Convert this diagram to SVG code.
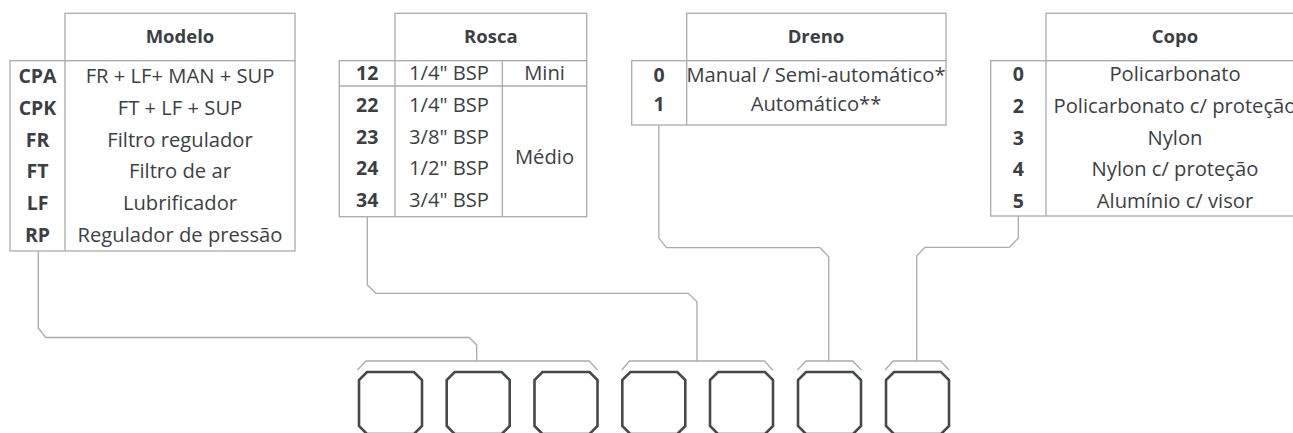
<svg xmlns="http://www.w3.org/2000/svg" width="1293" height="433" viewBox="0 0 1293 433">
<style>
.cell{fill:#fff;stroke:#ababab;stroke-width:1.3}
.ln{stroke:#ababab;stroke-width:1.3;fill:none}
.conn{stroke:#ababab;stroke-width:1.3;fill:none}
.box{fill:#fff;stroke:#45484c;stroke-width:2.6}
text{font-family:"Open Sans","Liberation Sans",sans-serif;fill:#3c3f44;text-anchor:middle}
.h{font-size:18.5px;font-weight:700}
.c{font-size:19.5px;font-weight:700}
.t{font-size:20.2px}
</style>
<rect width="1293" height="433" fill="#fff"/>
<g id="modelo">
<rect class="cell" x="65" y="13.3" width="230" height="47.4"/>
<rect class="cell" x="10" y="60.7" width="285" height="190.3"/>
<line class="ln" x1="65" y1="60.7" x2="65" y2="251"/>
<text class="h" x="180" y="43.3">Modelo</text>
<text class="c" x="37.5" y="83.3">CPA</text>
<text class="t" x="180" y="83.3">FR + LF+ MAN + SUP</text>
<text class="c" x="37.5" y="115">CPK</text>
<text class="t" x="180" y="115">FT + LF + SUP</text>
<text class="c" x="37.5" y="146.7">FR</text>
<text class="t" x="180" y="146.7">Filtro regulador</text>
<text class="c" x="37.5" y="178.4">FT</text>
<text class="t" x="180" y="178.4">Filtro de ar</text>
<text class="c" x="37.5" y="210.1">LF</text>
<text class="t" x="180" y="210.1">Lubrificador</text>
<text class="c" x="37.5" y="241.8">RP</text>
<text class="t" x="180" y="241.8">Regulador de pressão</text>
</g>
<g id="rosca">
<rect class="cell" x="395" y="13.3" width="191.7" height="47.4"/>
<rect class="cell" x="339.3" y="60.7" width="247.4" height="156"/>
<line class="ln" x1="395" y1="60.7" x2="395" y2="216.7"/>
<line class="ln" x1="502.3" y1="60.7" x2="502.3" y2="216.7"/>
<line class="ln" x1="339.3" y1="86" x2="586.7" y2="86"/>
<text class="h" x="490.8" y="43.3">Rosca</text>
<text class="c" x="367.2" y="80">12</text>
<text class="t" x="449" y="80">1/4"  BSP</text>
<text class="t" x="544.5" y="80">Mini</text>
<text class="c" x="367.2" y="111.7">22</text>
<text class="t" x="449" y="111.7">1/4"  BSP</text>
<text class="c" x="367.2" y="143.5">23</text>
<text class="t" x="449" y="143.5">3/8"  BSP</text>
<text class="c" x="367.2" y="175.3">24</text>
<text class="t" x="449" y="175.3">1/2"  BSP</text>
<text class="c" x="367.2" y="207.1">34</text>
<text class="t" x="449" y="207.1">3/4"  BSP</text>
<text class="t" x="544.5" y="164">Médio</text>
</g>
<g id="dreno">
<rect class="cell" x="686.7" y="13.3" width="259.3" height="47.4"/>
<rect class="cell" x="631.7" y="60.7" width="314.3" height="64.3"/>
<line class="ln" x1="686.7" y1="60.7" x2="686.7" y2="125"/>
<text class="h" x="816" y="43.3">Dreno</text>
<text class="c" x="659" y="82">0</text>
<text class="t" x="816" y="82">Manual / Semi-automático*</text>
<text class="c" x="659" y="110.5">1</text>
<text class="t" x="816" y="110.5">Automático**</text>
</g>
<g id="copo">
<rect class="cell" x="1046" y="13.3" width="270" height="47.4"/>
<rect class="cell" x="990.7" y="60.7" width="330" height="155.3"/>
<line class="ln" x1="1046" y1="60.7" x2="1046" y2="216"/>
<text class="h" x="1175" y="43.3">Copo</text>
<text class="c" x="1018.3" y="81">0</text>
<text class="t" x="1175" y="81">Policarbonato</text>
<text class="c" x="1018.3" y="112.8">2</text>
<text class="t" x="1175" y="112.8">Policarbonato c/ proteção</text>
<text class="c" x="1018.3" y="144.6">3</text>
<text class="t" x="1175" y="144.6">Nylon</text>
<text class="c" x="1018.3" y="176.4">4</text>
<text class="t" x="1175" y="176.4">Nylon c/ proteção</text>
<text class="c" x="1018.3" y="208.2">5</text>
<text class="t" x="1175" y="208.2">Alumínio c/ visor</text>
</g>
<g id="connectors">
<path class="conn" d="M38.3,251 V328 L45.7,337.5 H469.3 L476.7,345 V361"/>
<path class="conn" d="M367.3,216.7 V285 L376,293.3 H688.3 L697,301.7 V361"/>
<path class="conn" d="M658.8,125 V238 L666.5,247.7 H820 L828.7,256.7 V361"/>
<path class="conn" d="M1018.3,216 V238.3 L1009.3,247.3 H925 L916.7,256 V361"/>
<path class="conn" d="M357.3,370 L366,361 H589.3 L597.5,370"/>
<path class="conn" d="M621.7,370 L629.5,361 H764.5 L772.7,370"/>
<path class="conn" d="M797.3,370 L806,361 H852.7 L861.5,370"/>
<path class="conn" d="M885,370 L893.3,361 H940.5 L949,370"/>
</g>
<g id="box1"><path class="box" d="M367,372 H414 L422,380 V426 L414,434 H367 L359,426 V380 Z"/></g>
<g id="box2"><path class="box" d="M454.7,372 H501.7 L509.7,380 V426 L501.7,434 H454.7 L446.7,426 V380 Z"/></g>
<g id="box3"><path class="box" d="M542.5,372 H589.5 L597.5,380 V426 L589.5,434 H542.5 L534.5,426 V380 Z"/></g>
<g id="box4"><path class="box" d="M630.3,372 H677.3 L685.3,380 V426 L677.3,434 H630.3 L622.3,426 V380 Z"/></g>
<g id="box5"><path class="box" d="M718,372 H765 L773,380 V426 L765,434 H718 L710,426 V380 Z"/></g>
<g id="box6"><path class="box" d="M806,372 H853 L861,380 V426 L853,434 H806 L798,426 V380 Z"/></g>
<g id="box7"><path class="box" d="M894,372 H941 L949,380 V426 L941,434 H894 L886,426 V380 Z"/></g>
</svg>
